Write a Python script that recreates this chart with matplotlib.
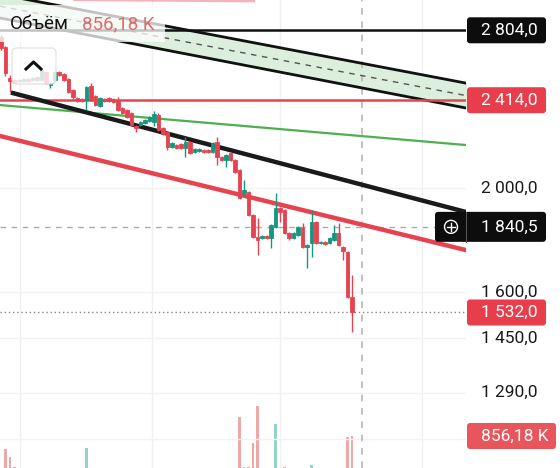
import matplotlib.pyplot as plt
import numpy as np
from matplotlib.patches import FancyBboxPatch, Rectangle, Circle

plt.rcParams['font.family'] = ['Roboto', 'DejaVu Sans']

# candles (price)
opens = [2764, 2705, 2531, 2521, 2515, 2515, 2526, 2521, 2537, 2521,
         2564, 2494, 2521, 2564, 2553, 2526, 2467, 2425, 2420, 2415,
         2488, 2436, 2384, 2420, 2425, 2420, 2415, 2374, 2364, 2349,
         2284, 2289, 2299, 2309, 2304, 2338, 2274, 2255, 2184, 2193,
         2198, 2179, 2207, 2160, 2165, 2170, 2170, 2160, 2207, 2137,
         2124, 2156, 2124, 2079, 1979, 1983, 1888, 1801, 1797, 1805,
         1797, 1840, 1916, 1908, 1816, 1797, 1808, 1836, 1763, 1778,
         1860, 1778, 1782, 1778, 1789, 1816, 1763, 1744, 1584]
highs = [2776, 2711, 2548, 2526, 2528, 2531, 2531, 2537, 2542, 2580,
         2570, 2510, 2570, 2570, 2559, 2531, 2473, 2430, 2425, 2488,
         2504, 2441, 2430, 2425, 2430, 2425, 2430, 2379, 2369, 2354,
         2289, 2309, 2319, 2334, 2359, 2349, 2279, 2260, 2207, 2198,
         2202, 2231, 2212, 2179, 2179, 2174, 2174, 2207, 2231, 2142,
         2151, 2160, 2128, 2083, 2035, 1987, 1892, 1876, 1809, 1809,
         1852, 1979, 1920, 1912, 1820, 1820, 1844, 1856, 1774, 1908,
         1864, 1786, 1786, 1801, 1848, 1856, 1766, 1748, 1660]
lows = [2688, 2542, 2457, 2504, 2510, 2510, 2510, 2515, 2515, 2515,
        2499, 2478, 2515, 2542, 2515, 2451, 2415, 2405, 2405, 2364,
        2410, 2384, 2379, 2405, 2405, 2400, 2359, 2343, 2324, 2284,
        2255, 2284, 2294, 2304, 2284, 2260, 2240, 2170, 2179, 2174,
        2174, 2137, 2151, 2156, 2160, 2156, 2156, 2156, 2101, 2119,
        2092, 2119, 2066, 1954, 1966, 1884, 1797, 1733, 1793, 1793,
        1759, 1836, 1860, 1812, 1789, 1793, 1805, 1759, 1685, 1725,
        1774, 1774, 1770, 1774, 1785, 1766, 1714, 1580, 1469]
closes = [2699, 2559, 2515, 2510, 2521, 2526, 2515, 2531, 2521, 2575,
          2504, 2504, 2564, 2548, 2521, 2457, 2430, 2410, 2410, 2483,
          2415, 2389, 2425, 2410, 2410, 2405, 2364, 2349, 2329, 2289,
          2274, 2304, 2314, 2329, 2343, 2265, 2245, 2184, 2202, 2179,
          2179, 2207, 2156, 2174, 2174, 2160, 2160, 2202, 2137, 2124,
          2146, 2124, 2070, 1958, 1991, 1888, 1801, 1789, 1805, 1797,
          1848, 1916, 1900, 1816, 1797, 1816, 1840, 1763, 1770, 1860,
          1778, 1782, 1774, 1797, 1816, 1770, 1748, 1584, 1532]
# volume, thousands
volumes_k = [10, 508, 294, 27, 8, 6, 5, 7, 6, 9,
             10, 8, 9, 6, 7, 12, 9, 6, 5, 535,
             10, 8, 7, 5, 5, 6, 9, 7, 8, 10,
             6, 5, 6, 7, 9, 10, 8, 12, 6, 5,
             6, 9, 8, 5, 5, 4, 4, 7, 10, 6,
             8, 7, 12, 1364, 15, 14, 669, 1658, 10, 8,
             12, 1177, 9, 14, 8, 7, 9, 12, 6, 80,
             10, 5, 5, 6, 9, 12, 10, 829, 856.18]

# drawn lines: (x0, price0, x1, price1) in bar index
channel_upper = (-0.22, 3028, 103.33, 2504)
channel_lower = (-0.22, 2879, 103.33, 2374)
green_line = (-0.22, 2389, 103.33, 2193)
black_trend = (2.67, 2451, 103.33, 1900)
red_trend = (-0.22, 2236, 103.33, 1751)
top_red = (-0.22, 3002, 56.0, 2990)
level_black = 2804.0
level_red = 2414.0
cursor_price = 1840.5
cursor_bar = 80.2
last_price = 1532.0
axis_prices = [2000.0, 1600.0, 1450.0, 1290.0]
grid_prices = [2000.0, 1600.0, 1450.0, 1290.0, 1168.0]
grid_bars = [4.22, 33.6, 62.0, 93.6]

RED = '#e5434f'
TEAL = '#17957d'

def fmt(v):
    return f"{v:,.1f}".replace(',', ' ').replace('.', ',')

def seg(line, n=50):
    x0, p0, x1, p1 = line
    xs = np.linspace(x0, x1, n)
    ps = np.exp(np.interp(xs, [x0, x1], [np.log(p0), np.log(p1)]))
    return xs, ps

o = np.array(opens, float)
h = np.array(highs, float)
l = np.array(lows, float)
c = np.array(closes, float)
x = np.arange(len(o))
cols = [RED if cc < oo else TEAL for oo, cc in zip(o, c)]
vcols = ['#eea9a7' if cc < oo else '#95d2c8' for oo, cc in zip(o, c)]

fig = plt.figure(figsize=(5.6, 4.68), dpi=100)
rect = [0, 0, 466 / 560, 1]
ax_v = fig.add_axes(rect)
ax = fig.add_axes(rect, sharex=ax_v)
ax.set_facecolor('none')

ax.set_yscale('log')
ax.set_xlim(-0.22, 103.33)
ax.set_ylim(1098, 2992)
ax_v.set_ylim(0, 12.52e6)
ax.axis('off')
ax_v.axis('off')

# grid
for gb in grid_bars:
    ax_v.axvline(gb, color='#f0f0f0', lw=1, zorder=0)
for gp in grid_prices:
    ax.axhline(gp, color='#f2f2f2', lw=1, zorder=0)

# volume
ax_v.bar(x, np.array(volumes_k) * 1000, width=0.65, color=vcols, zorder=1)

# channel
xs, up = seg(channel_upper)
_, lo = seg(channel_lower)
ax.fill_between(xs, lo, up, color='#dcefdc', zorder=1)
ax.plot(xs, up, color='#111111', lw=2, zorder=3)
ax.plot(xs, lo, color='#111111', lw=2, zorder=3)
ax.plot(xs, np.sqrt(up * lo), color='#555555', lw=1, ls=(0, (4, 4)), zorder=3)

xs, ps = seg(top_red)
ax.plot(xs, ps, color=RED, lw=3, alpha=0.4, zorder=2)

ax.axhline(level_black, color='#111111', lw=1.8, zorder=3)
ax.axhline(level_red, color=RED, lw=1.8, zorder=3)

xs, ps = seg(green_line)
ax.plot(xs, ps, color='#4caf50', lw=1.6, zorder=3)
xs, ps = seg(black_trend)
ax.plot(xs, ps, color='#1a1a1a', lw=3.2, zorder=3)
xs, ps = seg(red_trend)
ax.plot(xs, ps, color=RED, lw=3.2, zorder=3)

# crosshair and last price
ax.axhline(cursor_price, color='#aaaaaa', lw=1, ls=(0, (4, 4)), zorder=2)
ax.axvline(cursor_bar, color='#b5b5b5', lw=1.2, ls=(0, (4, 4)), zorder=2)
ax.axhline(last_price, color='#888888', lw=1, ls=(0, (1, 2)), zorder=2)

# candles
ax.vlines(x, l, h, color=cols, lw=1, zorder=4)
ax.bar(x, np.abs(c - o), bottom=np.minimum(o, c), width=0.75,
       color=cols, edgecolor=cols, lw=0.6, zorder=5)

# overlay in pixels
ov = fig.add_axes([0, 0, 1, 1])
ov.set_xlim(0, 560)
ov.set_ylim(468, 0)
ov.axis('off')

def ypix(a, v):
    return 468 - a.transData.transform((0, v))[1]

def tag(y, text, fc, x0=467, w=79, hgt=26, x_text=481):
    ov.add_patch(FancyBboxPatch((x0, y - hgt / 2), w, hgt,
                                boxstyle='round,pad=0,rounding_size=3',
                                fc=fc, ec='none', zorder=5))
    ov.text(x_text, y, text, color='white', fontsize=12.5,
            ha='left', va='center', zorder=6)

for p in axis_prices:
    ov.text(481, ypix(ax, p), fmt(p), color='#1a1a1a', fontsize=12.5,
            ha='left', va='center')

tag(ypix(ax, level_black), fmt(level_black), '#0d0d0d')
tag(ypix(ax, level_red), fmt(level_red), '#e83e4c')
tag(ypix(ax, last_price), fmt(last_price), '#e83e4c')
yc = ypix(ax, cursor_price)
tag(yc, fmt(cursor_price), '#0d0d0d', x0=435, w=111, hgt=30)
ov.plot([466, 466], [yc - 15, yc + 15], color='#555555', lw=0.8, zorder=6)
ov.add_patch(Circle((451, yc), 6.5, fill=False, ec='white', lw=1, zorder=6))
ov.plot([447, 455], [yc, yc], color='white', lw=1, zorder=6)
ov.plot([451, 451], [yc - 4, yc + 4], color='white', lw=1, zorder=6)

vol_last = volumes_k[-1]
tag(ypix(ax_v, vol_last * 1000), f"{vol_last:.2f} K".replace('.', ','),
    '#e8565c', w=89)

# volume legend
ov.add_patch(Rectangle((0, 5), 165, 37, fc='white', ec='none', alpha=0.75, zorder=5))
ov.text(10, 24, 'Объём', color='#111111', fontsize=13.5, va='center', zorder=6)
ov.text(82, 24, f"{vol_last:.2f} K".replace('.', ','), color='#e06b67',
        fontsize=13.5, va='center', zorder=6)

# collapse button
ov.add_patch(FancyBboxPatch((12, 48), 44, 36, boxstyle='round,pad=0,rounding_size=5',
                            fc='white', ec='#dddddd', lw=1, alpha=0.8, zorder=5))
ov.plot([26, 33.5, 41], [69, 62, 69], color='#111111', lw=2.2, zorder=6)

fig.savefig('out.png', dpi=100)
